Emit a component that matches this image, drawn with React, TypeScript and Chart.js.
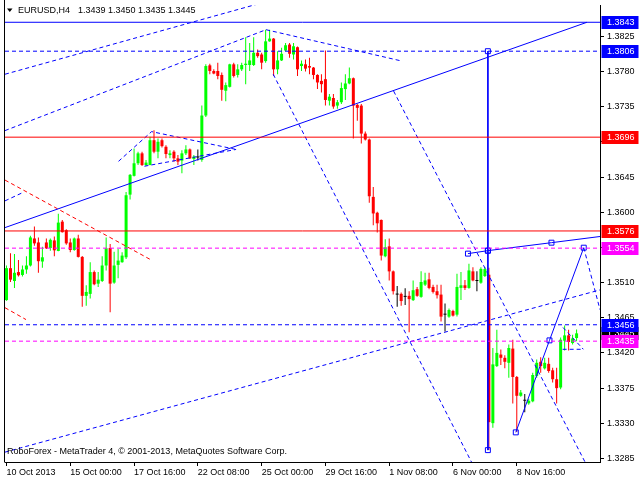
import React, { useEffect, useRef } from "react";
import { Chart, registerables } from "chart.js";

Chart.register(...registerables);

// ---------- EURUSD H4 candles (bar index 0 = 10 Oct 2013 08:00) ----------
const opens = [
  1.34875, 1.35284, 1.3512, 1.35234, 1.35197, 1.35267, 1.35318, 1.35664, 1.35613, 1.35369,
  1.35613, 1.35542, 1.35639, 1.35504, 1.35879, 1.3577, 1.35613, 1.35516, 1.35664, 1.35428,
  1.3493, 1.34955, 1.35234, 1.35086, 1.3512, 1.35318, 1.35542, 1.35099, 1.35326, 1.3536,
  1.35423, 1.36225, 1.36465, 1.36626, 1.36753, 1.36604, 1.36604, 1.36921, 1.36774, 1.36921,
  1.36837, 1.36731, 1.36774, 1.36689, 1.3666, 1.36753, 1.36803, 1.3668, 1.367, 1.36668,
  1.37237, 1.37879, 1.37807, 1.37807, 1.37756, 1.37554, 1.37604, 1.37892, 1.37756, 1.37828,
  1.37883, 1.37883, 1.37883, 1.3804, 1.38018, 1.37933, 1.38186, 1.38221, 1.37828, 1.37942,
  1.38069, 1.38145, 1.38018, 1.38111, 1.3787, 1.37892, 1.3787, 1.3785, 1.37756, 1.3768,
  1.37702, 1.37427, 1.37461, 1.37364, 1.37407, 1.37575, 1.37647, 1.37714, 1.37373, 1.37364,
  1.37006, 1.3693, 1.36196, 1.35993, 1.35901, 1.35436, 1.35563, 1.35243, 1.34946, 1.34955,
  1.34917, 1.3493, 1.34875, 1.35015, 1.34917, 1.35073, 1.35141, 1.35044, 1.34989, 1.34946,
  1.34689, 1.34664, 1.34736, 1.34689, 1.35031, 1.35065, 1.35031, 1.35243, 1.3512, 1.35098,
  1.35183, 1.352, 1.33301, 1.34031, 1.34179, 1.34137, 1.34073, 1.34255, 1.33892, 1.33651,
  1.33588, 1.33554, 1.3358, 1.33905, 1.34086, 1.34002, 1.3406, 1.33977, 1.33863, 1.33757,
  1.34356, 1.34424, 1.34326, 1.3439,
];
const highs = [
  1.35318, 1.35474, 1.35466, 1.3539, 1.35318, 1.35436, 1.35698, 1.35816, 1.35677, 1.35559,
  1.35664, 1.35664, 1.35689, 1.35981, 1.359, 1.35782, 1.35664, 1.35677, 1.3571, 1.3544,
  1.35065, 1.3536, 1.35255, 1.35234, 1.35436, 1.35677, 1.35592, 1.35495, 1.35529, 1.35487,
  1.3626, 1.3649, 1.36816, 1.36774, 1.36774, 1.36668, 1.36964, 1.37047, 1.36942, 1.36942,
  1.36858, 1.36794, 1.36794, 1.36731, 1.36794, 1.36858, 1.36816, 1.36731, 1.36803, 1.37364,
  1.37892, 1.379, 1.37828, 1.37913, 1.37787, 1.3766, 1.379, 1.37913, 1.37892, 1.37913,
  1.38237, 1.38166, 1.38237, 1.38081, 1.3804, 1.38335, 1.38335, 1.38228, 1.3806, 1.38103,
  1.38166, 1.38166, 1.38166, 1.3812, 1.37942, 1.37955, 1.37976, 1.37857, 1.37765, 1.37765,
  1.38069, 1.37512, 1.37512, 1.37436, 1.3766, 1.37765, 1.3785, 1.37723, 1.37385, 1.37385,
  1.37031, 1.36942, 1.36322, 1.36006, 1.35908, 1.35655, 1.35664, 1.35255, 1.35056, 1.34972,
  1.35026, 1.34989, 1.35127, 1.35044, 1.35243, 1.35225, 1.35225, 1.35073, 1.35073, 1.35073,
  1.34832, 1.34769, 1.34753, 1.35212, 1.35234, 1.35132, 1.35339, 1.35297, 1.35243, 1.35297,
  1.35297, 1.3529, 1.34263, 1.34496, 1.34243, 1.3417, 1.34306, 1.34369, 1.33905, 1.33724,
  1.33673, 1.33614, 1.33947, 1.34116, 1.34145, 1.34137, 1.34137, 1.3401, 1.3401, 1.34398,
  1.3455, 1.34496, 1.34432, 1.345,
];
const lows = [
  1.34866, 1.35107, 1.35031, 1.35176, 1.35176, 1.35213, 1.35305, 1.35571, 1.35225, 1.35288,
  1.35529, 1.35508, 1.35436, 1.355, 1.3574, 1.35584, 1.35487, 1.35508, 1.35419, 1.3479,
  1.34803, 1.34896, 1.35065, 1.35044, 1.35107, 1.35255, 1.34719, 1.35086, 1.35155, 1.35352,
  1.35402, 1.36162, 1.36458, 1.36604, 1.36592, 1.36592, 1.366, 1.36753, 1.36689, 1.36828,
  1.36689, 1.36689, 1.36647, 1.36604, 1.36499, 1.36731, 1.3668, 1.36604, 1.3666, 1.36647,
  1.37217, 1.37765, 1.37765, 1.37702, 1.37427, 1.3742, 1.37597, 1.37723, 1.37723, 1.37807,
  1.37638, 1.37807, 1.3787, 1.37976, 1.37828, 1.37913, 1.3818, 1.37744, 1.37765, 1.37933,
  1.3806, 1.37976, 1.37955, 1.37744, 1.37807, 1.37799, 1.37765, 1.37702, 1.37575, 1.37533,
  1.37364, 1.37364, 1.37322, 1.37322, 1.37385, 1.37436, 1.37638, 1.36942, 1.3717, 1.36879,
  1.36917, 1.3612, 1.35832, 1.3574, 1.35382, 1.35424, 1.35127, 1.34946, 1.34791, 1.34803,
  1.34812, 1.34465, 1.34863, 1.34917, 1.34905, 1.35056, 1.35015, 1.34959, 1.34896, 1.34601,
  1.34474, 1.34651, 1.34664, 1.34664, 1.34876, 1.35006, 1.35022, 1.35116, 1.34989, 1.35086,
  1.3517, 1.32956, 1.33243, 1.34019, 1.34044, 1.34002, 1.33883, 1.33554, 1.33187, 1.33639,
  1.3344, 1.33538, 1.33567, 1.33883, 1.33947, 1.33989, 1.33947, 1.3382, 1.33554, 1.33736,
  1.3423, 1.3423, 1.34306, 1.3435,
];
const closes = [
  1.35284, 1.35137, 1.35225, 1.35193, 1.35267, 1.35318, 1.35677, 1.35601, 1.35373, 1.35423,
  1.35538, 1.35647, 1.35512, 1.35867, 1.35744, 1.35601, 1.35516, 1.35664, 1.35428, 1.3493,
  1.3498, 1.35234, 1.35078, 1.35137, 1.35318, 1.35538, 1.35086, 1.35318, 1.35381, 1.35445,
  1.36217, 1.36478, 1.36626, 1.36753, 1.36604, 1.36635, 1.36921, 1.36774, 1.36901, 1.36845,
  1.36744, 1.36753, 1.36689, 1.36647, 1.36753, 1.36803, 1.36689, 1.36711, 1.367, 1.37237,
  1.3787, 1.37807, 1.37774, 1.37743, 1.37566, 1.37626, 1.37892, 1.37743, 1.37828, 1.37883,
  1.379, 1.37942, 1.3804, 1.37997, 1.37913, 1.38186, 1.38221, 1.37828, 1.37942, 1.38027,
  1.38136, 1.38027, 1.38123, 1.37828, 1.379, 1.37837, 1.3785, 1.37756, 1.3766, 1.37638,
  1.37436, 1.37478, 1.37352, 1.37407, 1.37588, 1.37647, 1.37714, 1.37364, 1.37335, 1.37006,
  1.3693, 1.36204, 1.35984, 1.35858, 1.35445, 1.3555, 1.35243, 1.34989, 1.34946, 1.34863,
  1.34917, 1.34888, 1.35002, 1.3493, 1.35107, 1.35127, 1.35031, 1.3498, 1.34938, 1.34664,
  1.34689, 1.34749, 1.34677, 1.35044, 1.35065, 1.35031, 1.35255, 1.35127, 1.3512, 1.35275,
  1.35272, 1.33314, 1.34053, 1.342, 1.34137, 1.34086, 1.34263, 1.33892, 1.33651, 1.33693,
  1.33588, 1.33588, 1.33917, 1.34073, 1.34031, 1.34073, 1.33968, 1.33863, 1.33749, 1.34369,
  1.34424, 1.34339, 1.34385, 1.3445,
];

// ---------- axes ----------
const xTickBars = [0, 16, 32, 48, 64, 80, 96, 112, 128];
const xTickLabels = [
  "10 Oct 2013", "15 Oct 00:00", "17 Oct 16:00", "22 Oct 08:00", "25 Oct 00:00",
  "29 Oct 16:00", "1 Nov 08:00", "6 Nov 00:00", "8 Nov 16:00",
];
const yTickValues = [
  1.3285, 1.333, 1.3375, 1.342, 1.3465, 1.351, 1.3555, 1.36, 1.3645, 1.369, 1.3735, 1.378, 1.3825,
];

// ---------- horizontal levels and price tags ----------
const levelPrices = [1.3843, 1.3806, 1.3696, 1.3576, 1.3554, 1.3456, 1.3435];
const tagPrices = [1.3843, 1.3806, 1.3696, 1.3576, 1.3554, 1.3445, 1.3456, 1.3435];

// ---------- drawn objects: [bar, price] anchors ----------
const trendSolid = [[-0.375, 1.35803], [145.6, 1.3843]];
const channelTop = [[-0.375, 1.37765], [73.9, 1.38818]];
const channelBottom = [[-0.375, 1.3293], [148.875, 1.35006]];
const riseToPeak = [[-0.375, 1.37044], [65.1, 1.38335]];
const peakSlope = [[65.1, 1.38335], [98.9, 1.37937]];
const fallLineA = [[66.9, 1.37765], [121.4, 1.32329]];
const fallLineB = [[97.1, 1.3755], [148.9, 1.3243]];
const leftBlueStub = [[-0.375, 1.36145], [4.4, 1.36259]];
const redFallA = [[-0.375, 1.36411], [36.4, 1.35386]];
const redFallB = [[-0.375, 1.34778], [4.9, 1.34626]];
const flagUpper = [[28.1, 1.36651], [36.4, 1.37031], [57.6, 1.36803]];
const flagLower = [[34.6, 1.36588], [57.6, 1.36803]];
const ecbVertical = [[120.75, 1.3806], [120.75, 1.35508], [120.75, 1.32956]];
const resistanceLine = [[115.75, 1.3547], [120.75, 1.35508], [136.7, 1.3561], [148.875, 1.35689]];
const forecastUp = [[127.75, 1.33183], [136.2, 1.3436], [144.8, 1.35546]];
const forecastDown = [[144.8, 1.35546], [148.875, 1.34753]];
const smallWedgeA = [[139.6, 1.34525], [144.7, 1.34246]];
const smallWedgeB = [[139.5, 1.34246], [144.7, 1.34246]];

const X_MIN = -0.375;
const X_MAX = 148.875;
const Y_MIN = 1.32804;
const Y_MAX = 1.38651;

const FONT = "'Liberation Sans', Arial, sans-serif";
const BLUE = "#0000ff";
const RED = "#ff0000";
const MAGENTA = "#ff00ff";
const LIME = "#00ff00";

export default function App() {
  const ref = useRef<HTMLCanvasElement>(null);

  useEffect(() => {
    const canvas = ref.current;
    if (!canvas) return;

    const idx = opens.map((_, i) => i);
    const candleColor = (i: number) =>
      closes[i] > opens[i] ? LIME : closes[i] < opens[i] ? RED : "#000000";

    const line = (pts: number[][], color: string, dash: number[], extra: any = {}) => ({
      type: "line",
      data: pts.map(([x, y]) => ({ x, y })),
      borderColor: color,
      borderWidth: 1,
      borderDash: dash,
      pointRadius: 0,
      fill: false,
      tension: 0,
      order: 0,
      ...extra,
    });

    const squares = (n: number[]) => ({
      pointRadius: n,
      pointStyle: "rect",
      pointBorderColor: BLUE,
      pointBackgroundColor: "rgba(255,255,255,0)",
      pointBorderWidth: 1,
    });

    const D = [4, 3];
    const levelStyles = [
      [BLUE, []], [BLUE, D], [RED, []], [RED, []], [MAGENTA, D], [BLUE, D], [MAGENTA, D],
    ];
    const levelSets = levelPrices.map((p, i) =>
      line([[X_MIN, p], [X_MAX, p]], levelStyles[i][0] as string, levelStyles[i][1] as number[])
    );

    const tagColors = [BLUE, BLUE, RED, RED, MAGENTA, "#000000", BLUE, MAGENTA];

    const overlay = {
      id: "overlay",
      afterDraw(chart: any) {
        const { ctx, chartArea } = chart;
        const y = chart.scales.y;
        ctx.save();
        // left frame
        ctx.strokeStyle = "#000";
        ctx.lineWidth = 1;
        ctx.beginPath();
        ctx.moveTo(chartArea.left - 0.5, 0);
        ctx.lineTo(chartArea.left - 0.5, chartArea.bottom + 0.5);
        ctx.stroke();

        // price tags
        ctx.font = `9px ${FONT}`;
        ctx.textBaseline = "middle";
        ctx.textAlign = "left";
        tagPrices.forEach((p, i) => {
          const py = Math.round(y.getPixelForValue(p));
          ctx.fillStyle = tagColors[i];
          ctx.fillRect(chartArea.right + 1.5, py - 6, 37, 13);
          ctx.fillStyle = "#ffffff";
          ctx.fillText(p.toFixed(4), chartArea.right + 7, py + 0.5);
        });

        // title
        ctx.fillStyle = "#000";
        ctx.beginPath();
        ctx.moveTo(7, 8.5);
        ctx.lineTo(12.5, 8.5);
        ctx.lineTo(9.75, 12);
        ctx.closePath();
        ctx.fill();
        ctx.fillText("EURUSD,H4", 18, 10.5);
        ctx.fillText(
          [opens[opens.length - 1], highs[highs.length - 1], lows[lows.length - 1], closes[closes.length - 1]]
            .map((v) => v.toFixed(4))
            .join(" "),
          78,
          10.5
        );

        // copyright
        ctx.fillText("RoboForex - MetaTrader 4, \u00a9 2001-2013, MetaQuotes Software Corp.", 7, 452);
        ctx.restore();
      },
    };

    const chart = new Chart(canvas, {
      type: "bar",
      data: {
        datasets: [
          ...levelSets,
          line(trendSolid, BLUE, []),
          line(channelTop, BLUE, D),
          line(channelBottom, BLUE, D),
          line(riseToPeak, BLUE, D),
          line(peakSlope, BLUE, D),
          line(fallLineA, BLUE, D),
          line(fallLineB, BLUE, D),
          line(leftBlueStub, BLUE, D),
          line(redFallA, RED, D),
          line(redFallB, RED, D),
          line(flagUpper, BLUE, D),
          line(flagLower, BLUE, D),
          line(ecbVertical, BLUE, [], squares([3.5, 3.5, 3.5])),
          line(resistanceLine, BLUE, [], squares([3.5, 3.5, 3.5, 0])),
          line(forecastUp, BLUE, [], squares([3.5, 3.5, 3.5])),
          line(forecastDown, BLUE, D),
          line(smallWedgeA, BLUE, D),
          line(smallWedgeB, BLUE, D),
          {
            type: "bar",
            data: idx.map((i) => ({ x: i, y: [opens[i], closes[i]] })),
            backgroundColor: idx.map(candleColor),
            barThickness: 3,
            grouped: false,
            inflateAmount: 0,
            minBarLength: 1,
            borderWidth: 0,
            order: 1,
          },
          {
            type: "bar",
            data: idx.map((i) => ({ x: i, y: [lows[i], highs[i]] })),
            backgroundColor: idx.map(candleColor),
            barThickness: 1,
            grouped: false,
            inflateAmount: 0,
            borderWidth: 0,
            order: 2,
          },
        ] as any,
      },
      options: {
        animation: false,
        responsive: false,
        events: [],
        layout: { padding: { left: 3, right: 0, top: 0, bottom: 0 } },
        plugins: { legend: { display: false }, tooltip: { enabled: false } },
        scales: {
          x: {
            type: "linear",
            min: X_MIN,
            max: X_MAX,
            bounds: "data",
            offset: false,
            afterBuildTicks: (s: any) => {
              s.ticks = xTickBars.map((v) => ({ value: v }));
            },
            afterFit: (s: any) => {
              s.height = 18;
              s.paddingLeft = 0;
              s.paddingRight = 0;
            },
            grid: { offset: false, drawOnChartArea: false, drawTicks: true, tickLength: 4, color: "#000" },
            border: { display: true, color: "#000" },
            ticks: {
              autoSkip: false,
              maxRotation: 0,
              minRotation: 0,
              align: "start",
              padding: 1,
              color: "#000",
              font: { family: FONT, size: 9 },
              callback: (_v: any, i: number) => xTickLabels[i],
            },
          },
          y: {
            type: "linear",
            position: "right",
            min: Y_MIN,
            max: Y_MAX,
            bounds: "data",
            beginAtZero: false,
            afterBuildTicks: (s: any) => {
              s.ticks = yTickValues.map((v) => ({ value: v }));
            },
            afterFit: (s: any) => {
              s.width = 40;
              s.paddingTop = 0;
              s.paddingBottom = 0;
            },
            grid: { drawOnChartArea: false, drawTicks: true, tickLength: 4, color: "#000" },
            border: { display: true, color: "#000" },
            ticks: {
              padding: 3,
              color: "#000",
              font: { family: FONT, size: 9 },
              callback: (v: any) => Number(v).toFixed(4),
            },
          },
        },
      } as any,
      plugins: [overlay],
    });

    return () => chart.destroy();
  }, []);

  return (
    <div style={{ position: "fixed", left: 0, top: 0, width: 640, height: 480, background: "#fff" }}>
      <canvas ref={ref} width={640} height={480} style={{ display: "block" }} />
    </div>
  );
}
